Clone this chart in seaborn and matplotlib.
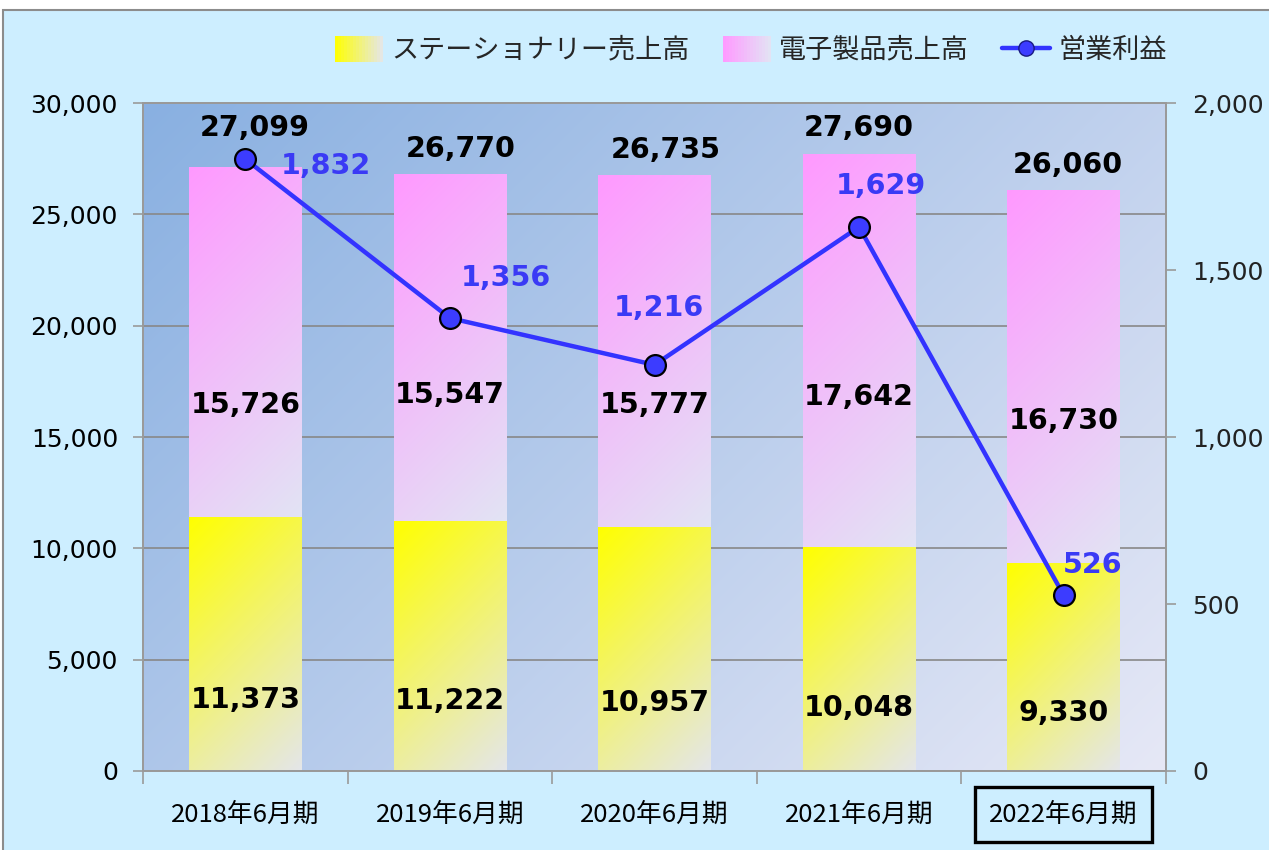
import numpy as np
import pandas as pd
import matplotlib
matplotlib.use("Agg")
import matplotlib.pyplot as plt
import seaborn as sns
from matplotlib.patches import Rectangle, Patch
from matplotlib.lines import Line2D
from matplotlib.legend_handler import HandlerBase
from matplotlib.ticker import FixedLocator, MultipleLocator, FuncFormatter
from matplotlib.colors import to_rgb
from matplotlib.font_manager import FontProperties

# ---------------- data ----------------
categories = ["2018年6月期", "2019年6月期", "2020年6月期", "2021年6月期", "2022年6月期"]
stationery = [11373, 11222, 10957, 10048, 9330]
electronics = [15726, 15547, 15777, 17642, 16730]
totals = [27099, 26770, 26735, 27690, 26060]
profit = [1832, 1356, 1216, 1629, 526]
series_names = ["ステーショナリー売上高", "電子製品売上高", "営業利益"]

# ---------------- style ----------------
FIG_BG = "#cdeeff"
PLOT_C0, PLOT_C1 = "#89b0e1", "#e6e8f6"
YEL_C0, YEL_C1 = "#ffff00", "#e4e6ea"
PINK_C0, PINK_C1 = "#ff99ff", "#e2e4f4"
LINE_C = "#3333ff"
LABEL_BLUE = "#3a3af5"
JP = "Noto Sans CJK JP"

sns.set_theme(style="white")
plt.rcParams["font.family"] = ["DejaVu Sans"]

W, H = 1269, 850
fig = plt.figure(figsize=(W / 100, H / 100), dpi=100, facecolor="white")
fig.add_artist(Rectangle((3 / W, -0.02), 1.05, 1 - 10 / H + 0.02, transform=fig.transFigure,
                         facecolor=FIG_BG, edgecolor="#8c8c8c", lw=1.5, zorder=-10))

ax1 = fig.add_axes([143 / W, 1 - 771 / H, (1166 - 143) / W, (771 - 103) / H])
ax1.set_facecolor("none")

df = pd.DataFrame({"cat": categories, "stationery": stationery,
                   "electronics": electronics, "total": totals, "profit": profit})

sns.barplot(data=df, x="cat", y="total", color=PINK_C0, width=0.55, saturation=1,
            errorbar=None, ax=ax1, edgecolor="none")
sns.barplot(data=df, x="cat", y="stationery", color=YEL_C0, width=0.55, saturation=1,
            errorbar=None, ax=ax1, edgecolor="none")

XLIM = (-0.5, len(categories) - 0.5)
ax1.set_xlim(*XLIM)
ax1.set_ylim(0, 30000)


def grad_img(c0, c1, wpx, hpx, n=160):
    xs = np.linspace(0, 1, n)
    ys = np.linspace(0, 1, n)
    X, Y = np.meshgrid(xs, ys)
    t = (X * wpx + Y * hpx) / (wpx + hpx)
    a = np.array(to_rgb(c0))
    b = np.array(to_rgb(c1))
    return a[None, None, :] * (1 - t[..., None]) + b[None, None, :] * t[..., None]


# plot-area gradient background
bbox = ax1.get_position()
ax1.imshow(grad_img(PLOT_C0, PLOT_C1, bbox.width * W, bbox.height * H),
           extent=(0, 1, 0, 1), transform=ax1.transAxes, origin="upper",
           aspect="auto", interpolation="bilinear", zorder=-1)

# gradient fills for bar segments
n = len(categories)
pink_patches = ax1.patches[:n]
yel_patches = ax1.patches[n:2 * n]
for i in range(n):
    for patch, lo, hi, c0, c1 in ((pink_patches[i], stationery[i], totals[i], PINK_C0, PINK_C1),
                                  (yel_patches[i], 0, stationery[i], YEL_C0, YEL_C1)):
        x0 = patch.get_x()
        w = patch.get_width()
        p0 = ax1.transData.transform((x0, lo))
        p1 = ax1.transData.transform((x0 + w, hi))
        img = grad_img(c0, c1, abs(p1[0] - p0[0]), abs(p1[1] - p0[1]))
        ax1.imshow(img, extent=(x0, x0 + w, lo, hi), origin="upper", aspect="auto",
                   interpolation="bilinear", zorder=patch.get_zorder() + 0.05 + (0.01 if lo == 0 else 0))

ax1.set_xlim(*XLIM)
ax1.set_ylim(0, 30000)

# secondary axis line
ax2 = ax1.twinx()
sns.lineplot(data=df, x="cat", y="profit", sort=False, ax=ax2, color=LINE_C, lw=3.2,
             marker="o", markersize=15, markerfacecolor="#3c3cff",
             markeredgecolor="black", markeredgewidth=1.6)
ax2.set_ylim(0, 2000)
ax1.set_xlim(*XLIM)

# ---------------- labels ----------------
fmt = lambda v: f"{v:,.0f}"
bold = dict(fontsize=20.5, fontweight="bold", family="DejaVu Sans")

total_off = [(9, 26), (11, 12), (11, 12), (0, 12), (4, 12)]
elec_frac = [0.607, 0.63, 0.615, 0.607, 0.603]
for i in range(n):
    ax1.annotate(fmt(totals[i]), (i, totals[i]), xytext=total_off[i], textcoords="offset pixels",
                 ha="center", va="bottom", color="black", zorder=5, **bold)
    ax1.annotate(fmt(electronics[i]), (i, totals[i] * elec_frac[i]), ha="center", va="center",
                 color="black", zorder=5, **bold)
    ax1.annotate(fmt(stationery[i]), (i, stationery[i] * 0.28), ha="center", va="center",
                 color="black", zorder=5, **bold)

profit_off = [(81, -7), (56, 40), (4, 57), (22, 41), (29, 30)]
for i in range(n):
    ax2.annotate(fmt(profit[i]), (i, profit[i]), xytext=profit_off[i], textcoords="offset pixels",
                 ha="center", va="center", color=LABEL_BLUE, zorder=6, **bold)

# ---------------- axes styling ----------------
ax1.yaxis.set_major_locator(MultipleLocator(5000))
ax1.yaxis.set_major_formatter(FuncFormatter(lambda v, p: fmt(v)))
ax2.yaxis.set_major_locator(MultipleLocator(500))
ax2.yaxis.set_major_formatter(FuncFormatter(lambda v, p: fmt(v)))

ax1.grid(axis="y", color="#888888", lw=1.2)
ax1.grid(axis="x", visible=False)
ax1.set_axisbelow(True)
ax2.grid(False)

for ax in (ax1, ax2):
    ax.set_xlabel("")
    ax.set_ylabel("")
    for s in ax.spines.values():
        s.set_color("#9a9a9a")
        s.set_linewidth(1.3)
        s.set_visible(True)

ax1.tick_params(axis="y", which="major", left=True, length=7, width=1.2, color="#9a9a9a",
                labelsize=18, pad=11, labelcolor="black")
ax2.tick_params(axis="y", which="major", right=True, length=7, width=1.2, color="#9a9a9a",
                labelsize=18, pad=12, labelcolor="#222222")

ax1.xaxis.set_major_locator(FixedLocator(list(range(n))))
labels = ax1.set_xticklabels(categories, fontproperties=FontProperties(family=JP, size=18.5))
ax1.xaxis.set_minor_locator(FixedLocator(list(np.arange(-0.5, n, 1.0))))
ax1.tick_params(axis="x", which="major", length=0, pad=22, labelcolor="black")
ax1.tick_params(axis="x", which="minor", bottom=True, length=9, width=1.2, color="#9a9a9a")
labels[-1].set_bbox(dict(boxstyle="square,pad=0.55", facecolor="none", edgecolor="black", lw=2.4))

ax1.set_xlim(*XLIM)
ax1.set_ylim(0, 30000)
ax2.set_ylim(0, 2000)


# ---------------- legend ----------------
class GradHandler(HandlerBase):
    def __init__(self, c0, c1, steps=16):
        super().__init__()
        self.c0 = np.array(to_rgb(c0))
        self.c1 = np.array(to_rgb(c1))
        self.steps = steps

    def create_artists(self, legend, orig_handle, xdescent, ydescent, width, height, fontsize, trans):
        arts = []
        for k in range(self.steps):
            t = (k + 0.5) / self.steps
            col = self.c0 * (1 - t) + self.c1 * t
            arts.append(Rectangle((-xdescent + width * k / self.steps, -ydescent - 3),
                                  width / self.steps + 0.4, height + 5, facecolor=col,
                                  edgecolor="none", transform=trans))
        return arts


h_yel = Patch(facecolor=YEL_C0)
h_pink = Patch(facecolor=PINK_C0)
h_line = Line2D([], [], color=LINE_C, lw=3.2, marker="o", markersize=11,
                markerfacecolor="#3c3cff", markeredgecolor="#1a1a80")
fig.legend([h_yel, h_pink, h_line], series_names, loc="center",
           bbox_to_anchor=(751 / W, 1 - 50 / H), ncol=3, frameon=False,
           handlelength=1.75, handletextpad=0.3, columnspacing=1.25,
           prop=FontProperties(family=JP, size=19.5),
           handler_map={h_yel: GradHandler(YEL_C0, YEL_C1), h_pink: GradHandler(PINK_C0, PINK_C1)})

fig.savefig("out.png", dpi=100, facecolor=fig.get_facecolor())
